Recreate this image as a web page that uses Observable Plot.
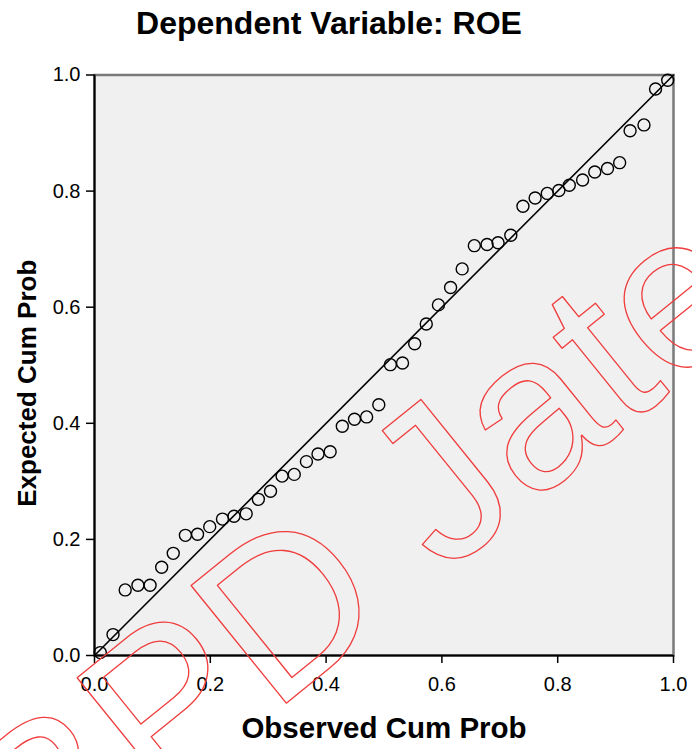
<!DOCTYPE html>
<html><head><meta charset="utf-8">
<script src="https://cdn.jsdelivr.net/npm/d3@7"></script>
<script src="https://cdn.jsdelivr.net/npm/@observablehq/plot@0.6"></script>
<style>
body{margin:0;background:#fff;font-family:"Liberation Sans",Arial,sans-serif;}
#title{height:46px;line-height:46px;font-size:32px;font-weight:bold;text-align:center;width:692px;position:relative;left:-17px;color:#000;}
</style></head><body>
<div id="title"></div>
<div id="chart"></div>
<script>
const titleText = "Dependent Variable: ROE";
const xLabel = "Observed Cum Prob";
const yLabel = "Expected Cum Prob";
const watermark = "BPD Jateng";
const observed = [0.010,0.032,0.053,0.075,0.096,0.116,0.136,0.157,0.178,0.199,0.221,0.241,0.262,0.283,0.304,0.324,0.345,0.366,0.386,0.407,0.428,0.449,0.470,0.491,0.511,0.532,0.553,0.573,0.594,0.615,0.635,0.656,0.678,0.697,0.719,0.740,0.761,0.782,0.802,0.820,0.843,0.864,0.886,0.907,0.925,0.949,0.969,0.990];
const expected = [0.005,0.036,0.113,0.121,0.121,0.152,0.176,0.207,0.209,0.222,0.235,0.240,0.244,0.269,0.283,0.309,0.312,0.334,0.347,0.351,0.395,0.407,0.411,0.432,0.501,0.504,0.537,0.571,0.604,0.634,0.666,0.706,0.708,0.711,0.724,0.774,0.788,0.796,0.801,0.810,0.819,0.833,0.839,0.849,0.904,0.914,0.976,0.991];
const xTicks = [0, 0.2, 0.4, 0.6, 0.8, 1.0];
const yTicks = [0, 0.2, 0.4, 0.6, 0.8, 1.0];
const diagonal = [0, 1];

document.getElementById("title").textContent = titleText;
const points = observed.map((x, i) => ({x, y: expected[i]}));
const diag = diagonal.map(d => ({x: d, y: d}));

const chart = Plot.plot({
  width: 692, height: 703,
  marginTop: 28.5, marginBottom: 94, marginLeft: 94, marginRight: 19,
  x: {domain: [0, 1]}, y: {domain: [0, 1]},
  style: {fontFamily: "Liberation Sans, Arial, sans-serif", background: "#fff", color: "#000"},
  marks: [
    Plot.frame({fill: "#f0f0f0", stroke: "#7a7a7a", strokeWidth: 2.5}),
    Plot.line(diag, {x: "x", y: "y", stroke: "#000", strokeWidth: 1.6}),
    Plot.dot(points, {x: "x", y: "y", r: 6, stroke: "#000", strokeWidth: 1.4, fill: "none"}),
    Plot.ruleX([0], {stroke: "#000", strokeWidth: 2}),
    Plot.ruleY([0], {stroke: "#000", strokeWidth: 2}),
    Plot.axisX({ticks: xTicks, tickFormat: d3.format(".1f"), tickSize: 8, tickPadding: 13, fontSize: 20, label: null, strokeWidth: 1.5}),
    Plot.axisY({ticks: yTicks, tickFormat: d3.format(".1f"), tickSize: 8, tickPadding: 6, fontSize: 20, label: null, strokeWidth: 1.5}),
    Plot.text([xLabel], {frameAnchor: "bottom", dy: 73, textAnchor: "middle", lineAnchor: "middle", fontSize: 29.5, fontWeight: "bold"}),
    Plot.text([yLabel], {frameAnchor: "left", dx: -67, dy: 18, rotate: -90, textAnchor: "middle", lineAnchor: "middle", fontSize: 26, fontWeight: "bold"}),
    Plot.text([watermark], {frameAnchor: "top-left", dx: -50.4, dy: 824.1, rotate: -39, textAnchor: "start", lineAnchor: "bottom", fontSize: 220, fill: "none", stroke: "#f03c3c", strokeWidth: 1.3})
  ]
});
document.getElementById("chart").appendChild(chart);
</script>
</body></html>
